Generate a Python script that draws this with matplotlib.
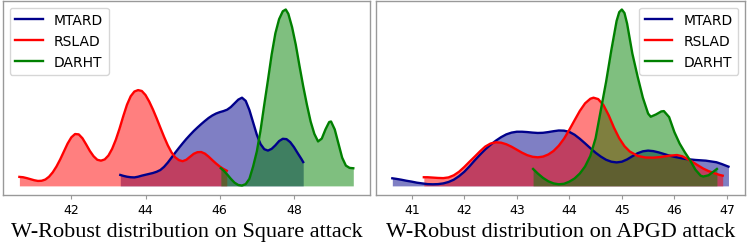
import matplotlib
matplotlib.use("Agg")
import matplotlib.pyplot as plt

# ---------------- data ----------------
# Left panel: Square attack
sq_mtard_x = [43.32, 43.4, 43.5, 43.6, 43.7, 43.8, 43.9, 44.0, 44.1, 44.2, 44.3, 44.4, 44.5, 44.6, 44.7, 44.8,
              44.9, 45.0, 45.1, 45.2, 45.3, 45.4, 45.5, 45.6, 45.7, 45.8, 45.9, 46.0, 46.1, 46.2, 46.3, 46.4,
              46.5, 46.6, 46.7, 46.8, 46.9, 47.0, 47.1, 47.2, 47.3, 47.4, 47.5, 47.6, 47.7, 47.8, 47.9, 48.0,
              48.1, 48.2, 48.25]
sq_mtard_y = [0.062, 0.057, 0.052, 0.049, 0.048, 0.052, 0.058, 0.063, 0.068, 0.073, 0.080, 0.090, 0.108, 0.132, 0.160, 0.188,
              0.215, 0.241, 0.266, 0.289, 0.311, 0.331, 0.350, 0.368, 0.385, 0.399, 0.410, 0.418, 0.424, 0.432, 0.447, 0.468,
              0.489, 0.500, 0.482, 0.430, 0.360, 0.290, 0.237, 0.208, 0.200, 0.210, 0.230, 0.254, 0.267, 0.265, 0.248, 0.220,
              0.186, 0.153, 0.135]

sq_rslad_x = [40.6, 40.7, 40.8, 40.9, 41.0, 41.1, 41.2, 41.3, 41.4, 41.5, 41.6, 41.7, 41.8, 41.9, 42.0, 42.1,
              42.2, 42.3, 42.4, 42.5, 42.6, 42.7, 42.8, 42.9, 43.0, 43.1, 43.2, 43.3, 43.4, 43.5, 43.6, 43.7,
              43.8, 43.9, 44.0, 44.1, 44.2, 44.3, 44.4, 44.5, 44.6, 44.7, 44.8, 44.9, 45.0, 45.1, 45.2, 45.3,
              45.4, 45.5, 45.6, 45.7, 45.8, 45.9, 46.0, 46.1, 46.19]
sq_rslad_y = [0.051, 0.049, 0.044, 0.038, 0.032, 0.028, 0.029, 0.036, 0.052, 0.077, 0.110, 0.150, 0.195, 0.240, 0.275, 0.294,
              0.292, 0.270, 0.235, 0.198, 0.168, 0.148, 0.143, 0.150, 0.172, 0.210, 0.262, 0.325, 0.395, 0.460, 0.508, 0.535,
              0.543, 0.538, 0.515, 0.478, 0.433, 0.383, 0.330, 0.278, 0.230, 0.190, 0.162, 0.146, 0.140, 0.148, 0.165, 0.182,
              0.191, 0.192, 0.183, 0.166, 0.146, 0.127, 0.110, 0.096, 0.086]

sq_darht_x = [46.03, 46.1, 46.2, 46.3, 46.4, 46.5, 46.6, 46.7, 46.8, 46.9, 47.0, 47.1, 47.2, 47.3, 47.4, 47.5,
              47.6, 47.7, 47.78, 47.85, 47.95, 48.05, 48.15, 48.25, 48.35, 48.45, 48.55, 48.65, 48.75, 48.85, 48.95, 49.0,
              49.1, 49.2, 49.3, 49.4, 49.5, 49.6]
sq_darht_y = [0.100, 0.088, 0.065, 0.040, 0.018, 0.005, 0.002, 0.010, 0.040, 0.110, 0.195, 0.315, 0.460, 0.600, 0.745, 0.865,
              0.945, 0.990, 1.000, 0.975, 0.900, 0.800, 0.680, 0.565, 0.460, 0.365, 0.295, 0.252, 0.268, 0.320, 0.362, 0.365,
              0.320, 0.240, 0.160, 0.115, 0.102, 0.100]

# Right panel: APGD attack
ap_mtard_x = [40.63, 40.7, 40.8, 40.9, 41.0, 41.1, 41.2, 41.3, 41.4, 41.5, 41.6, 41.7, 41.8, 41.9, 42.0, 42.1,
              42.2, 42.3, 42.4, 42.5, 42.6, 42.7, 42.8, 42.9, 43.0, 43.1, 43.2, 43.3, 43.4, 43.5, 43.6, 43.7,
              43.8, 43.9, 44.0, 44.1, 44.2, 44.3, 44.4, 44.5, 44.6, 44.7, 44.8, 44.9, 45.0, 45.1, 45.2, 45.3,
              45.4, 45.5, 45.6, 45.7, 45.8, 45.9, 46.0, 46.2, 46.4, 46.6, 46.8, 46.9, 47.03]
ap_mtard_y = [0.043, 0.040, 0.035, 0.029, 0.024, 0.018, 0.014, 0.010, 0.009, 0.010, 0.014, 0.022, 0.035, 0.055, 0.080, 0.111,
              0.145, 0.177, 0.207, 0.233, 0.256, 0.276, 0.292, 0.302, 0.307, 0.307, 0.305, 0.302, 0.300, 0.301, 0.305, 0.310,
              0.314, 0.313, 0.306, 0.290, 0.267, 0.241, 0.214, 0.188, 0.166, 0.148, 0.137, 0.133, 0.137, 0.150, 0.168, 0.185,
              0.196, 0.200, 0.197, 0.190, 0.181, 0.172, 0.165, 0.153, 0.147, 0.143, 0.134, 0.124, 0.109]

ap_rslad_x = [41.23, 41.3, 41.4, 41.5, 41.6, 41.7, 41.8, 41.9, 42.0, 42.1, 42.2, 42.3, 42.4, 42.5, 42.6, 42.7,
              42.8, 42.9, 43.0, 43.1, 43.2, 43.3, 43.4, 43.5, 43.6, 43.7, 43.8, 43.9, 44.0, 44.1, 44.2, 44.3,
              44.4, 44.46, 44.55, 44.65, 44.75, 44.85, 44.95, 45.05, 45.15, 45.3, 45.45, 45.6, 45.75, 45.9, 46.05, 46.15,
              46.25, 46.35, 46.45, 46.55, 46.65, 46.75, 46.85, 46.92]
ap_rslad_y = [0.049, 0.049, 0.047, 0.045, 0.044, 0.048, 0.060, 0.080, 0.107, 0.137, 0.166, 0.196, 0.223, 0.240, 0.247, 0.245,
              0.236, 0.222, 0.205, 0.188, 0.174, 0.165, 0.162, 0.166, 0.178, 0.198, 0.228, 0.268, 0.318, 0.372, 0.425, 0.468,
              0.494, 0.500, 0.492, 0.458, 0.400, 0.330, 0.270, 0.225, 0.195, 0.170, 0.161, 0.160, 0.164, 0.171, 0.175, 0.168,
              0.152, 0.135, 0.116, 0.098, 0.084, 0.073, 0.063, 0.058]

ap_darht_x = [43.31, 43.4, 43.5, 43.6, 43.7, 43.8, 43.9, 44.0, 44.1, 44.2, 44.3, 44.4, 44.5, 44.6, 44.7, 44.8,
              44.9, 44.95, 45.0, 45.05, 45.1, 45.2, 45.3, 45.4, 45.5, 45.55, 45.65, 45.75, 45.8, 45.9, 46.0, 46.1,
              46.2, 46.3, 46.4, 46.5, 46.55, 46.65, 46.75, 46.81]
ap_darht_y = [0.096, 0.070, 0.045, 0.026, 0.014, 0.009, 0.012, 0.024, 0.042, 0.070, 0.110, 0.170, 0.270, 0.430, 0.590, 0.770,
              0.935, 0.985, 1.000, 0.980, 0.920, 0.750, 0.620, 0.500, 0.410, 0.392, 0.405, 0.422, 0.424, 0.390, 0.305, 0.240,
              0.190, 0.145, 0.092, 0.058, 0.053, 0.060, 0.082, 0.096]

labels = ["MTARD", "RSLAD", "DARHT"]
colors = ["#00008B", "#FF0000", "#008000"]
titles = ["W-Robust distribution on Square attack", "W-Robust distribution on APGD attack"]
tick_sets = [[42, 44, 46, 48], [41, 42, 43, 44, 45, 46, 47]]

panels = [
    [(sq_mtard_x, sq_mtard_y), (sq_rslad_x, sq_rslad_y), (sq_darht_x, sq_darht_y)],
    [(ap_mtard_x, ap_mtard_y), (ap_rslad_x, ap_rslad_y), (ap_darht_x, ap_darht_y)],
]

fig = plt.figure(figsize=(7.47, 2.51), dpi=100)
axes_pos = [[0.0036, 0.2203, 0.4917, 0.773], [0.5027, 0.2203, 0.495, 0.773]]
legend_locs = ["upper left", "upper right"]

for i in range(2):
    ax = fig.add_axes(axes_pos[i])
    for (x, y), lab, c in zip(panels[i], labels, colors):
        ax.fill_between(x, y, 0, color=c, alpha=0.5, linewidth=0)
        ax.plot(x, y, color=c, lw=1.7, label=lab, solid_joinstyle="round")
    ax.set_yticks([])
    ax.set_xticks(tick_sets[i])
    ax.tick_params(axis="x", labelsize=9, length=3, width=0.8, color="#999999", pad=3)
    for s in ax.spines.values():
        s.set_color("#999999")
        s.set_linewidth(1.0)
    ax.legend(loc=legend_locs[i], fontsize=10, frameon=True)
    pos = axes_pos[i]
    fig.text(pos[0] + pos[2] / 2, 0.0546, titles[i], ha="center", va="baseline",
             fontsize=16, family=["Liberation Serif", "DejaVu Serif"])

fig.savefig("out.png", dpi=100)
